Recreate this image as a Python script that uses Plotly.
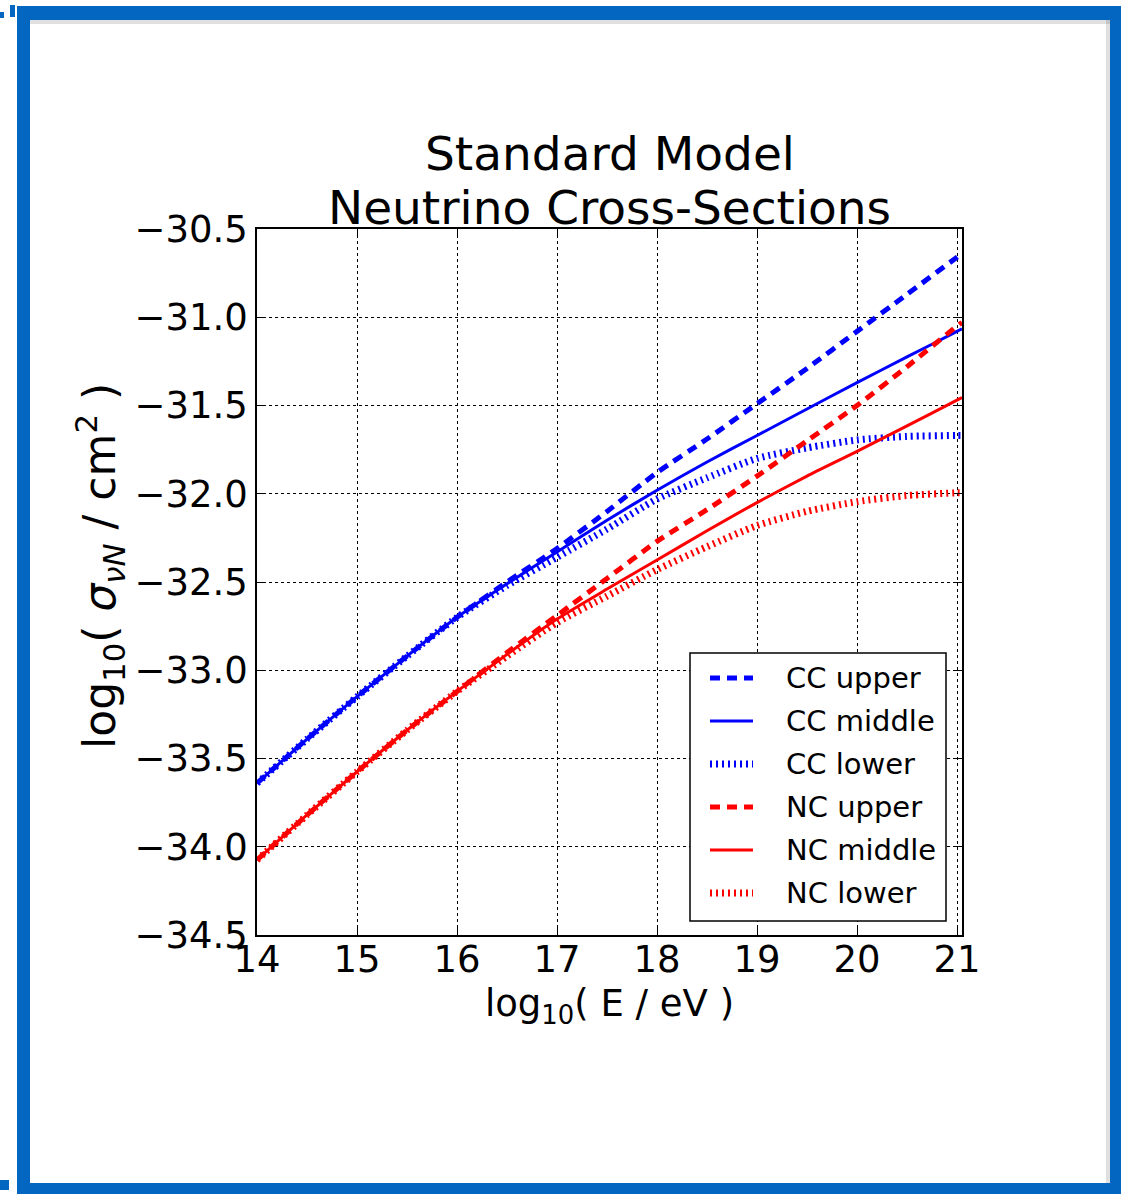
import plotly.graph_objects as go

# ---- data ----
log_e = [14.0, 14.5, 15.0, 15.5, 16.0, 16.5, 17.0, 17.5, 18.0, 18.5, 19.0, 19.5, 20.0, 20.5, 21.0, 21.05]

cc_middle = [-33.64, -33.39, -33.15, -32.92, -32.70, -32.51, -32.33, -32.15, -31.98, -31.82, -31.67, -31.52, -31.37, -31.225, -31.08, -31.065]
cc_upper = [-33.64, -33.39, -33.15, -32.92, -32.70, -32.50, -32.31, -32.10, -31.88, -31.69, -31.49, -31.29, -31.08, -30.87, -30.66, -30.64]
cc_lower = [-33.64, -33.39, -33.15, -32.92, -32.70, -32.52, -32.36, -32.20, -32.03, -31.91, -31.80, -31.74, -31.695, -31.675, -31.67, -31.67]

nc_middle = [-34.075, -33.82, -33.575, -33.34, -33.12, -32.91, -32.71, -32.54, -32.375, -32.21, -32.05, -31.90, -31.76, -31.615, -31.47, -31.455]
nc_upper = [-34.075, -33.82, -33.575, -33.34, -33.12, -32.90, -32.69, -32.48, -32.27, -32.09, -31.90, -31.70, -31.50, -31.28, -31.05, -31.03]
nc_lower = [-34.075, -33.82, -33.575, -33.34, -33.12, -32.92, -32.73, -32.58, -32.43, -32.30, -32.18, -32.10, -32.045, -32.01, -31.995, -31.995]

series_names = ["CC upper", "CC middle", "CC lower", "NC upper", "NC middle", "NC lower"]
series_values = [cc_upper, cc_middle, cc_lower, nc_upper, nc_middle, nc_lower]
series_colors = ["#0000ff", "#0000ff", "#0000ff", "#ff0000", "#ff0000", "#ff0000"]
series_dash = ["10px,7px", "solid", "2px,4px", "10px,7px", "solid", "2px,4px"]
series_width = [5, 3, 7, 5, 3, 7]

x_ticks = [14, 15, 16, 17, 18, 19, 20, 21]
y_ticks = [-30.5, -31.0, -31.5, -32.0, -32.5, -33.0, -33.5, -34.0, -34.5]

title_lines = ["Standard Model", "Neutrino Cross-Sections"]
x_title = "log<sub>10</sub>( E / eV )"
y_title = "log<sub>10</sub>( <i>σ<sub>νN</sub></i> / cm<sup>2</sup> )"

FONT = "DejaVu Sans"
W, H = 1121, 1194
L, R, T, B = 257, 962, 229, 935

fig = go.Figure()
for name, vals, col, dash, wd in zip(series_names, series_values, series_colors, series_dash, series_width):
    fig.add_trace(go.Scatter(x=log_e, y=vals, mode="lines", name=name, showlegend=False,
                             line=dict(color=col, dash=dash, width=wd, shape="spline", smoothing=0.6)))

def px_x(p):
    return (p - L) / (R - L)

def px_y(p):
    return (B - p) / (B - T)

shapes = []
annotations = []
blue = "#0366c0"
# frame around the figure
for (x0, y0, x1, y1) in [(17, 6, 1121, 20), (17, 6, 30, 1194), (1110, 6, 1121, 1194), (17, 1183, 1121, 1194)]:
    shapes.append(dict(type="rect", xref="paper", yref="paper", x0=px_x(x0), x1=px_x(x1),
                       y0=px_y(y1), y1=px_y(y0), fillcolor=blue, line=dict(width=0), layer="above"))
for (x0, y0, x1, y1) in [(30, 20, 1110, 24), (1106, 20, 1110, 1183)]:
    shapes.append(dict(type="rect", xref="paper", yref="paper", x0=px_x(x0), x1=px_x(x1),
                       y0=px_y(y1), y1=px_y(y0), fillcolor="rgba(0,0,0,0.12)", line=dict(width=0), layer="above"))
for (x0, y0, x1, y1) in [(0, 12, 4, 18), (10, 5, 15, 17), (0, 1180, 9, 1190)]:
    shapes.append(dict(type="rect", xref="paper", yref="paper", x0=px_x(x0), x1=px_x(x1),
                       y0=px_y(y1), y1=px_y(y0), fillcolor=blue, line=dict(width=0), layer="above"))

# title (two centred lines)
for txt, yp in zip(title_lines, [153, 207]):
    annotations.append(dict(text=txt, xref="paper", yref="paper", x=px_x(609.5), y=px_y(yp),
                            xanchor="center", yanchor="middle", showarrow=False,
                            font=dict(family=FONT, size=47, color="black")))

# y-axis title
annotations.append(dict(text=y_title, xref="paper", yref="paper", x=px_x(100), y=px_y(566),
                        xanchor="center", yanchor="middle", textangle=-90, showarrow=False,
                        font=dict(family=FONT, size=44, color="black")))

# legend box drawn by hand to match the layout
lx0, ly0, lx1, ly1 = 690, 653, 946, 921
shapes.append(dict(type="rect", xref="paper", yref="paper", x0=px_x(lx0), x1=px_x(lx1),
                   y0=px_y(ly1), y1=px_y(ly0), fillcolor="white", line=dict(color="black", width=1.5),
                   layer="above"))
row_y = [678, 721, 764, 807, 850, 893]
for name, col, dash, wd, ry in zip(series_names, series_colors, series_dash, series_width, row_y):
    shapes.append(dict(type="line", xref="paper", yref="paper", x0=px_x(710), x1=px_x(753),
                       y0=px_y(ry), y1=px_y(ry), line=dict(color=col, dash=dash, width=wd), layer="above"))
    annotations.append(dict(text=name, xref="paper", yref="paper", x=px_x(784), y=px_y(ry),
                            xanchor="left", yanchor="middle", showarrow=False,
                            font=dict(family=FONT, size=29, color="black")))

axis_common = dict(showline=True, linecolor="black", linewidth=1.5, mirror="allticks",
                   ticks="inside", ticklen=8, tickwidth=1, tickcolor="black",
                   showgrid=True, gridcolor="black", gridwidth=1, griddash="dot",
                   zeroline=False, tickfont=dict(family=FONT, size=37, color="black"))

fig.update_layout(
    width=W, height=H, autosize=False,
    margin=dict(l=L, r=W - R, t=T, b=H - B, pad=0),
    paper_bgcolor="white", plot_bgcolor="white",
    xaxis=dict(range=[14, 21.05], tickvals=x_ticks, ticktext=[str(v) for v in x_ticks],
               ticklabelstandoff=-9,
               title=dict(text=x_title, standoff=10,
                          font=dict(family=FONT, size=37, color="black")),
               **axis_common),
    yaxis=dict(range=[-34.5, -30.5], tickvals=y_ticks, tickformat=".1f",
               **axis_common),
    shapes=shapes,
    annotations=annotations,
    showlegend=False,
)

fig.write_html("out.html")
